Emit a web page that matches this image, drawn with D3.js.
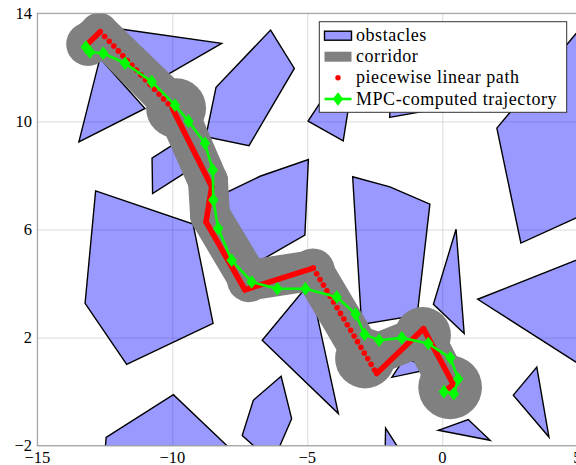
<!DOCTYPE html>
<html>
<head>
<meta charset="utf-8">
<script src="https://cdn.jsdelivr.net/npm/d3@7"></script>
<style>
  body { margin: 0; background: #fff; }
  svg { display: block; }
  text { font-family: "Liberation Serif", "DejaVu Serif", serif; fill: #000; }
</style>
</head>
<body>
<svg id="chart" width="576" height="465"></svg>
<script>
// ---------- axis ticks ----------
const xTicks = [-15, -10, -5, 0, 5];
const yTicks = [-2, 2, 6, 10, 14];

// ---------- obstacles (polygon vertices, x/y) ----------
const obstacleA = [[-11.85, 13.41], [-8.17, 12.89], [-10.53, 11.53]];
const obstacleB = [[-12.68, 12.34], [-11.01, 10.48], [-13.46, 9.24]];
const obstacleC = [[-10.75, 8.64], [-9.71, 9.31], [-9.49, 8.12], [-10.73, 7.33]];
const obstacleD = [[-12.84, 7.43], [-9.23, 6.2], [-8.49, 2.53], [-11.69, 1.01], [-13.23, 3.27]];
const obstacleE = [[-6.36, 13.38], [-5.48, 11.96], [-7.16, 9.1], [-8.76, 9.43], [-8.38, 11.26]];
const obstacleF = [[-4.97, 10.01], [-3.67, 9.28], [-3.46, 10.6], [-4.34, 10.97]];
const obstacleG = [[-1.95, 10.15], [-0.55, 10.4], [-0.5, 11.5], [-1.9, 11.2]];
const obstacleH = [[2.02, 9.75], [2.91, 5.5], [6.0, 6.9], [6.0, 14.5]];
const obstacleI = [[-3.32, 7.95], [-1.94, 7.58], [-0.46, 6.94], [-0.93, 2.83], [-2.99, 2.49]];
const obstacleJ = [[0.51, 6.01], [-0.33, 3.23], [0.81, 2.15]];
const obstacleK = [[1.31, 3.42], [6.0, 5.28], [6.0, 0.42]];
const obstacleL = [[2.63, -0.13], [3.5, 0.91], [3.95, -1.68]];
const obstacleM = [[-0.15, -1.43], [0.96, -1.03], [1.77, -1.8]];
const obstacleN = [[-2.1, -1.35], [-1.49, -2.3], [-2.12, -2.3]];
const obstacleO = [[-12.45, -1.69], [-9.96, -0.11], [-7.66, -2.3], [-12.5, -2.3]];
const obstacleP = [[-5.97, 0.57], [-5.58, -1.0], [-6.1, -2.2], [-6.77, -2.2], [-7.41, -1.62], [-7.0, -0.32]];
const obstacleQ = [[-6.67, 1.9], [-3.85, -0.81], [-4.9, 4.04]];
const obstacleR = [[-4.96, 8.59], [-5.09, 5.79], [-7.24, 4.56], [-8.35, 7.2], [-6.75, 7.97]];
const obstacleS = [[-1.87, 0.53], [-1.38, 1.27], [-0.46, 0.83]];

// ---------- corridor: chain of balls (centre x, centre y, radius) ----------
const corridorX = [-13.12, -12.71, -9.86, -8.68, -8.60, -7.16, -4.79, -2.86, -0.72, 0.29];
const corridorY = [12.86, 13.31, 10.49, 7.79, 6.53, 4.12, 4.49, 1.23, 2.09, 0.16];
const corridorR = [0.81, 0.70, 1.11, 0.74, 0.74, 0.81, 0.81, 1.11, 1.04, 1.18];

// ---------- piecewise linear path (waypoints) ----------
const pathX = [-13.11, -12.67, -10.0, -8.54, -8.75, -7.31, -4.78, -2.43, -0.70, 0.41, 0.22];
const pathY = [12.89, 13.32, 10.49, 7.58, 6.28, 3.77, 4.57, 0.67, 2.33, 0.27, 0.12];

// ---------- MPC-computed trajectory ----------
const mpcX = [-13.20, -13.05, -12.56, -11.75, -10.76, -9.90, -9.40, -8.79, -8.50, -8.48,
              -8.30, -7.80, -7.06, -6.11, -5.07, -3.91, -3.21, -2.88, -2.34, -1.50,
              -0.52, 0.30, 0.59, 0.43, 0.06];
const mpcY = [12.75, 12.57, 12.52, 12.15, 11.47, 10.60, 10.01, 9.19, 8.20, 7.09,
              6.04, 4.86, 4.06, 3.81, 3.81, 3.50, 2.87, 2.12, 1.90, 1.99,
              1.78, 1.25, 0.47, -0.08, 0.00];

const legendLabels = ["obstacles", "corridor", "piecewise linear path", "MPC-computed trajectory"];

// ---------- layout ----------
const svg = d3.select("#chart");
const plotLeft = 37.3, plotRight = 577.3, plotTop = 13.3, plotBottom = 445.7;
const x = d3.scaleLinear().domain([-15, 5]).range([plotLeft, plotRight]);
const y = d3.scaleLinear().domain([-2, 14]).range([plotBottom, plotTop]);
const unit = x(1) - x(0);
const neckRadius = 0.75;   // half-width of the links between corridor balls

svg.append("defs").append("clipPath").attr("id", "plotClip")
  .append("rect").attr("x", plotLeft).attr("y", plotTop)
  .attr("width", plotRight - plotLeft).attr("height", plotBottom - plotTop);

// grid
const grid = svg.append("g");
grid.append("g").attr("transform", `translate(0,${plotBottom})`)
  .call(d3.axisBottom(x).tickValues(xTicks).tickSize(-(plotBottom - plotTop)).tickFormat(""))
  .call(g => g.select(".domain").remove())
  .call(g => g.selectAll("line").attr("stroke", "#dadada").attr("stroke-width", 1));
grid.append("g").attr("transform", `translate(${plotLeft},0)`)
  .call(d3.axisLeft(y).tickValues(yTicks).tickSize(-(plotRight - plotLeft)).tickFormat(""))
  .call(g => g.select(".domain").remove())
  .call(g => g.selectAll("line").attr("stroke", "#dadada").attr("stroke-width", 1));

const plot = svg.append("g").attr("clip-path", "url(#plotClip)");

// obstacles
const obstacles = [obstacleA, obstacleB, obstacleC, obstacleD, obstacleE, obstacleF, obstacleG,
  obstacleH, obstacleI, obstacleJ, obstacleK, obstacleL, obstacleM, obstacleN, obstacleO,
  obstacleP, obstacleQ, obstacleR, obstacleS];
const poly = d3.line().x(d => x(d[0])).y(d => y(d[1]));
plot.append("g").selectAll("path").data(obstacles).join("path")
  .attr("d", d => poly(d) + "Z")
  .attr("fill", "#0000ff").attr("fill-opacity", 0.4)
  .attr("stroke", "#000").attr("stroke-width", 1.4).attr("stroke-linejoin", "miter");

// corridor: balls joined by narrower links
const balls = corridorX.map((cx, i) => ({ cx, cy: corridorY[i], r: corridorR[i] }));
function ringPoints(b, r) {
  return d3.range(64).map(k => {
    const a = 2 * Math.PI * k / 64;
    return [x(b.cx) + r * unit * Math.cos(a), y(b.cy) + r * unit * Math.sin(a)];
  });
}
const corridor = plot.append("g").attr("fill", "#808080");
d3.pairs(balls).forEach(([a, b]) => {
  const pts = ringPoints(a, Math.min(a.r, neckRadius)).concat(ringPoints(b, Math.min(b.r, neckRadius)));
  corridor.append("path").attr("d", "M" + d3.polygonHull(pts).join("L") + "Z");
});
corridor.selectAll("circle").data(balls).join("circle")
  .attr("cx", d => x(d.cx)).attr("cy", d => y(d.cy)).attr("r", d => d.r * unit);

// piecewise linear path: sampled densely on some legs, sparsely on others
const sparseLegs = new Set([1, 6]);
const waypoints = pathX.map((px, i) => [px, pathY[i]]);
const red = plot.append("g").attr("fill", "none").attr("stroke", "#ff0000")
  .attr("stroke-linecap", "round").attr("stroke-linejoin", "round");
d3.pairs(waypoints).forEach(([a, b], i) => {
  const seg = red.append("path").attr("d", poly([a, b])).attr("stroke-width", 5.6);
  if (sparseLegs.has(i)) seg.attr("stroke-dasharray", "0 6.6");
});

// MPC trajectory
const mpc = mpcX.map((mx, i) => [mx, mpcY[i]]);
plot.append("path").attr("d", poly(mpc))
  .attr("fill", "none").attr("stroke", "#00ff00").attr("stroke-width", 2.6)
  .attr("stroke-linejoin", "round");
const diamond = "M0,-6.8L5.2,0L0,6.8L-5.2,0Z";
plot.append("g").selectAll("path").data(mpc).join("path")
  .attr("transform", d => `translate(${x(d[0])},${y(d[1])})`)
  .attr("d", diamond).attr("fill", "#00ff00");

// frame
svg.append("rect").attr("x", plotLeft).attr("y", plotTop)
  .attr("width", plotRight - plotLeft).attr("height", plotBottom - plotTop)
  .attr("fill", "none").attr("stroke", "#9a9a9a").attr("stroke-width", 1);

// tick labels
const fmt = d3.format("");
svg.append("g").selectAll("text").data(xTicks).join("text")
  .attr("x", d => x(d)).attr("y", 462.5)
  .attr("text-anchor", "middle").attr("font-size", 16.5).text(d => fmt(d));
svg.append("g").selectAll("text").data(yTicks).join("text")
  .attr("x", 32).attr("y", d => y(d) + 5.2)
  .attr("text-anchor", "end").attr("font-size", 16.5).text(d => fmt(d));

// legend
const lg = svg.append("g");
lg.append("rect").attr("x", 319.3).attr("y", 21.7).attr("width", 247.4).attr("height", 90.6)
  .attr("fill", "#fff").attr("stroke", "#333").attr("stroke-width", 1);
const rowY = [35.7, 56.7, 77.7, 99];
lg.append("rect").attr("x", 324.5).attr("y", rowY[0] - 4.5).attr("width", 27).attr("height", 9)
  .attr("fill", "#0000ff").attr("fill-opacity", 0.4).attr("stroke", "#000").attr("stroke-width", 1.4);
lg.append("rect").attr("x", 324.5).attr("y", rowY[1] - 5).attr("width", 27).attr("height", 10)
  .attr("fill", "#808080");
lg.append("circle").attr("cx", 338).attr("cy", rowY[2]).attr("r", 2.7).attr("fill", "#ff0000");
lg.append("line").attr("x1", 324.5).attr("x2", 351.5).attr("y1", rowY[3]).attr("y2", rowY[3])
  .attr("stroke", "#00ff00").attr("stroke-width", 2.6);
lg.append("path").attr("transform", `translate(338,${rowY[3]})`).attr("d", diamond).attr("fill", "#00ff00");
lg.selectAll("text.lab").data(legendLabels).join("text").attr("class", "lab")
  .attr("x", 356).attr("y", (d, i) => rowY[i] + 5.5)
  .attr("font-size", 18).attr("letter-spacing", 0.55).text(d => d);
</script>
</body>
</html>
